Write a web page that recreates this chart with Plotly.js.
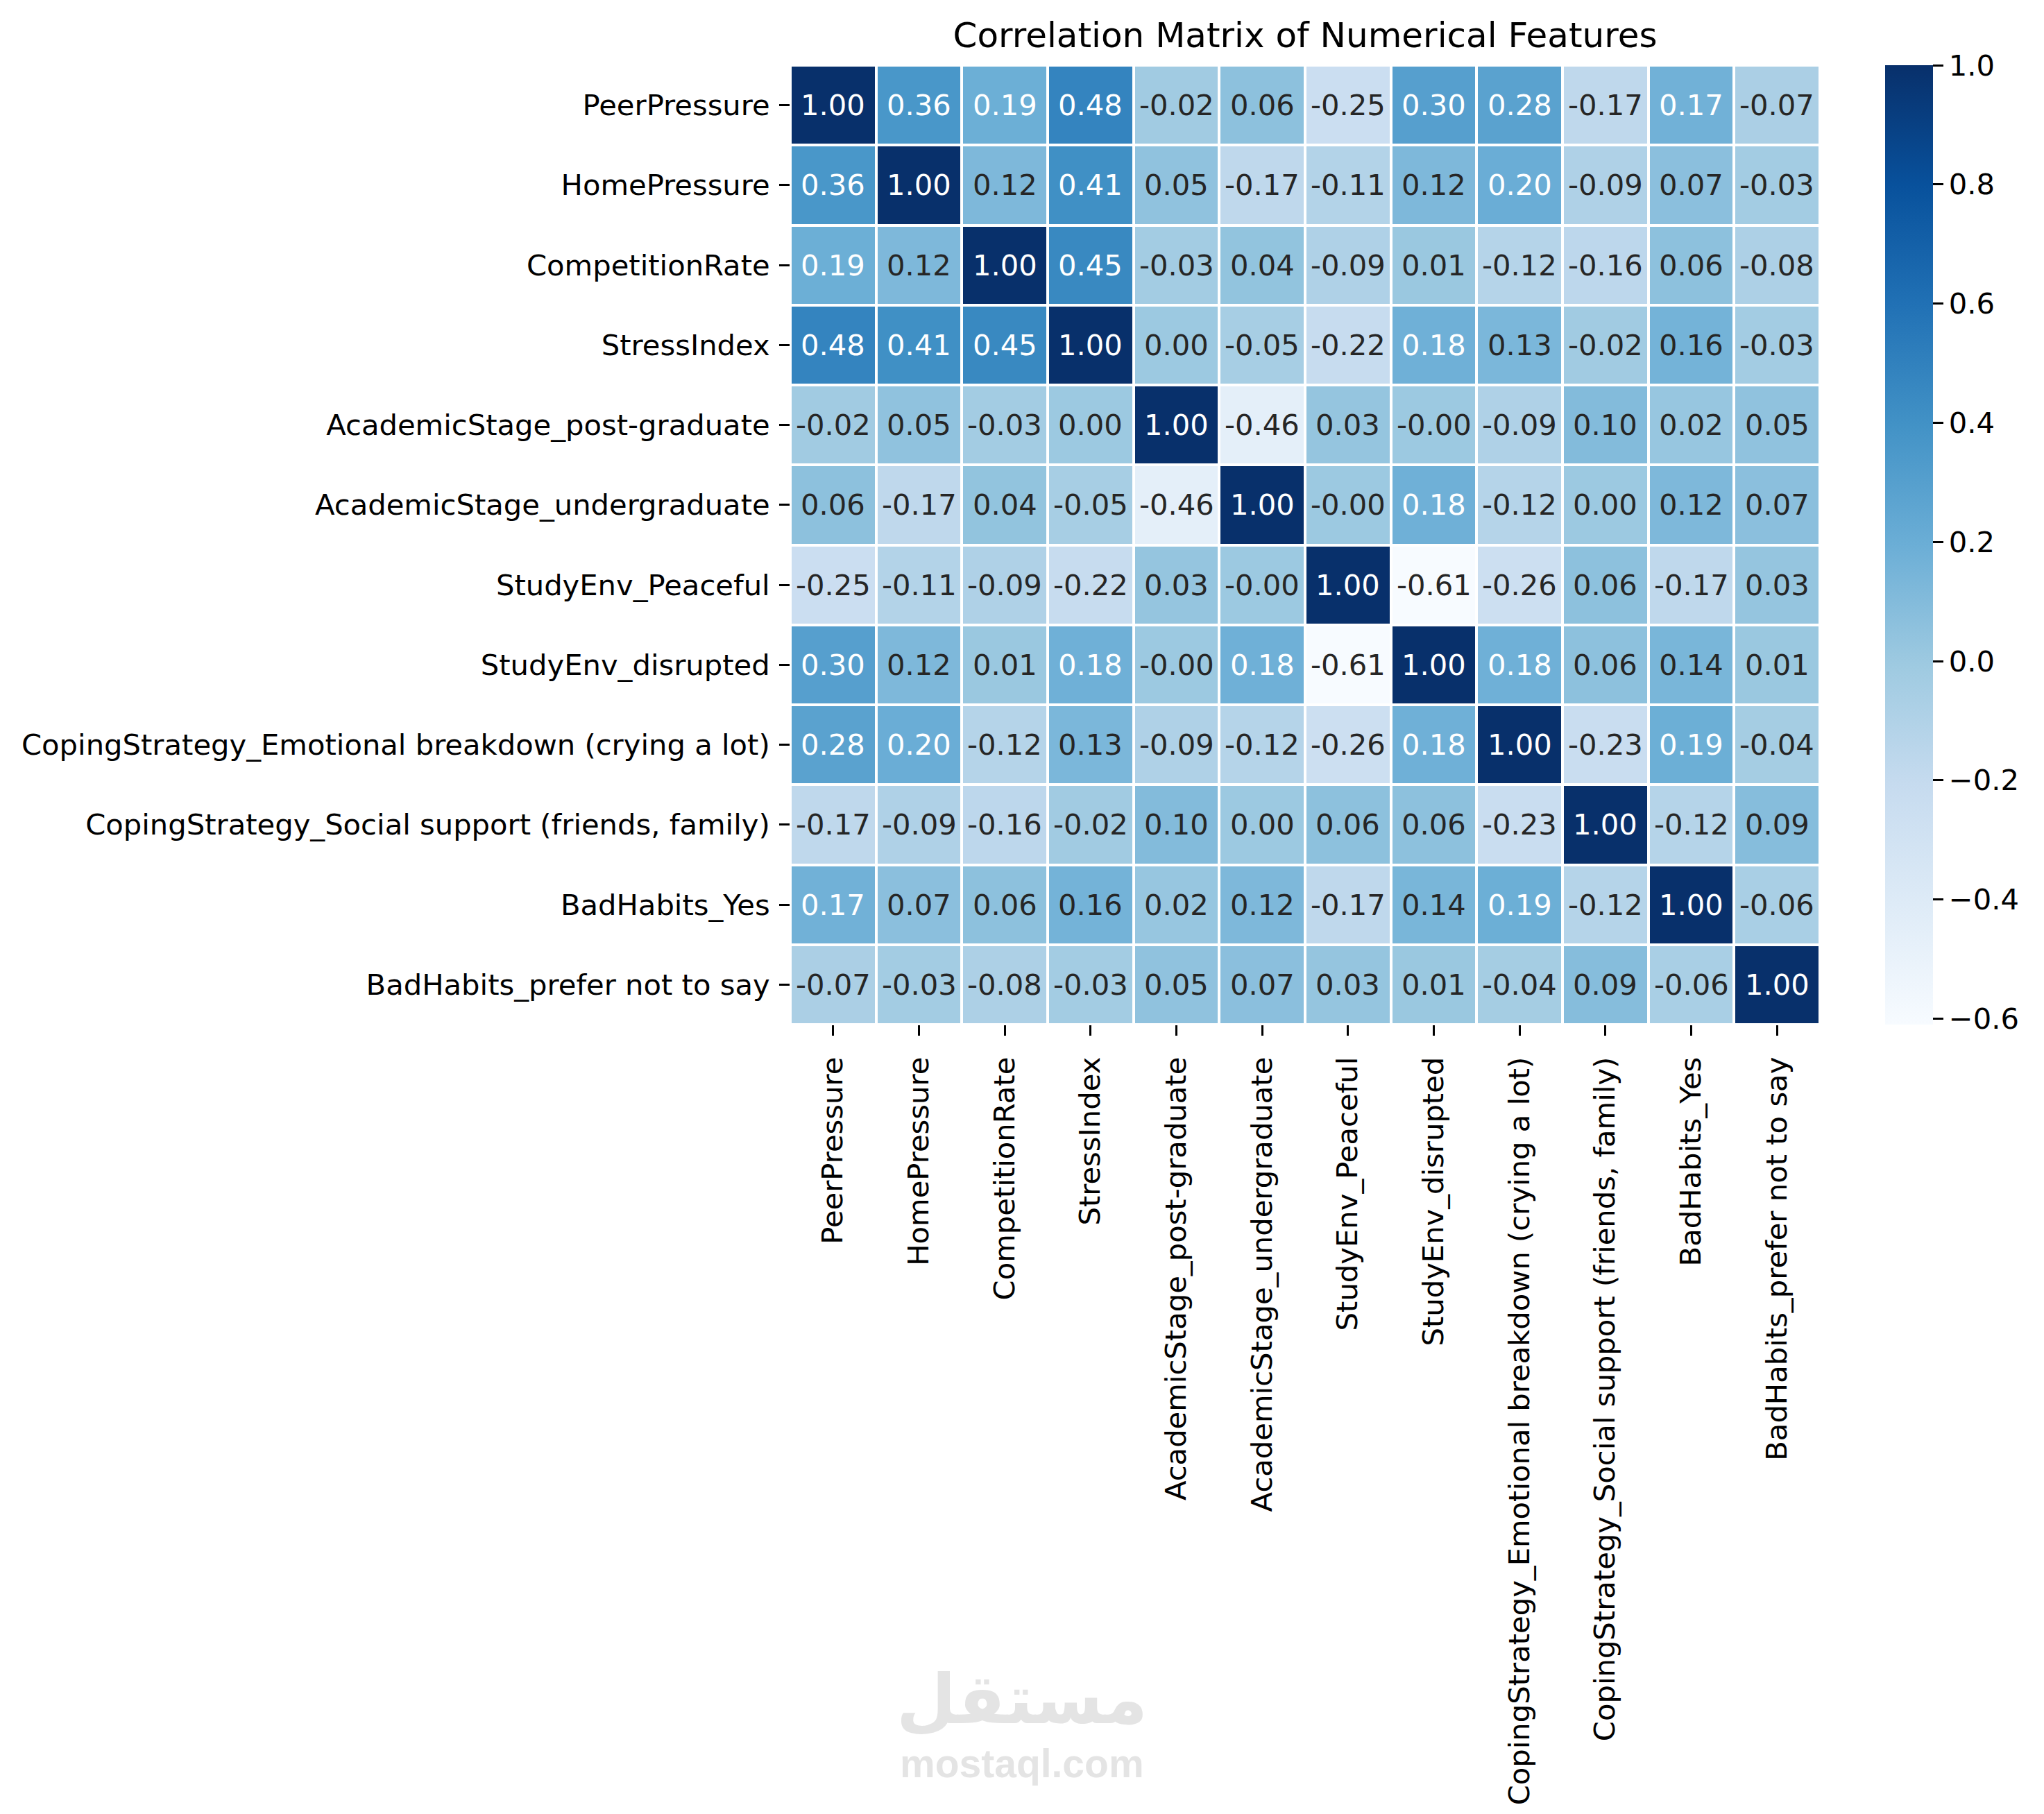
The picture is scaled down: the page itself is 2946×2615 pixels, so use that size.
<!DOCTYPE html>
<html>
<head>
<meta charset="utf-8">
<script src="https://cdn.plot.ly/plotly-3.0.1.min.js"></script>
<style>
  html, body { margin: 0; padding: 0; background: #ffffff; }
  #chart { width: 2946px; height: 2615px; }
</style>
</head>
<body>
<div id="chart"></div>
<script>
// ---- Data ----
const features = [
  "PeerPressure",
  "HomePressure",
  "CompetitionRate",
  "StressIndex",
  "AcademicStage_post-graduate",
  "AcademicStage_undergraduate",
  "StudyEnv_Peaceful",
  "StudyEnv_disrupted",
  "CopingStrategy_Emotional breakdown (crying a lot)",
  "CopingStrategy_Social support (friends, family)",
  "BadHabits_Yes",
  "BadHabits_prefer not to say"
];

const corrPeerPressure     = [ 1.00,  0.36,  0.19,  0.48, -0.02,  0.06, -0.25,  0.30,  0.28, -0.17,  0.17, -0.07];
const corrHomePressure     = [ 0.36,  1.00,  0.12,  0.41,  0.05, -0.17, -0.11,  0.12,  0.20, -0.09,  0.07, -0.03];
const corrCompetitionRate  = [ 0.19,  0.12,  1.00,  0.45, -0.03,  0.04, -0.09,  0.01, -0.12, -0.16,  0.06, -0.08];
const corrStressIndex      = [ 0.48,  0.41,  0.45,  1.00,  0.00, -0.05, -0.22,  0.18,  0.13, -0.02,  0.16, -0.03];
const corrPostGraduate     = [-0.02,  0.05, -0.03,  0.00,  1.00, -0.46,  0.03, -0.00, -0.09,  0.10,  0.02,  0.05];
const corrUndergraduate    = [ 0.06, -0.17,  0.04, -0.05, -0.46,  1.00, -0.00,  0.18, -0.12,  0.00,  0.12,  0.07];
const corrPeaceful         = [-0.25, -0.11, -0.09, -0.22,  0.03, -0.00,  1.00, -0.61, -0.26,  0.06, -0.17,  0.03];
const corrDisrupted        = [ 0.30,  0.12,  0.01,  0.18, -0.00,  0.18, -0.61,  1.00,  0.18,  0.06,  0.14,  0.01];
const corrEmotional        = [ 0.28,  0.20, -0.12,  0.13, -0.09, -0.12, -0.26,  0.18,  1.00, -0.23,  0.19, -0.04];
const corrSocialSupport    = [-0.17, -0.09, -0.16, -0.02,  0.10,  0.00,  0.06,  0.06, -0.23,  1.00, -0.12,  0.09];
const corrBadHabitsYes     = [ 0.17,  0.07,  0.06,  0.16,  0.02,  0.12, -0.17,  0.14,  0.19, -0.12,  1.00, -0.06];
const corrBadHabitsNoSay   = [-0.07, -0.03, -0.08, -0.03,  0.05,  0.07,  0.03,  0.01, -0.04,  0.09, -0.06,  1.00];

const colorbarTicks = [-0.6, -0.4, -0.2, 0.0, 0.2, 0.4, 0.6, 0.8, 1.0];

const z = [
  corrPeerPressure, corrHomePressure, corrCompetitionRate, corrStressIndex,
  corrPostGraduate, corrUndergraduate, corrPeaceful, corrDisrupted,
  corrEmotional, corrSocialSupport, corrBadHabitsYes, corrBadHabitsNoSay
];

// ---- Styles ----
const FONT = "DejaVu Sans, Liberation Sans, sans-serif";
const blues = [
  [0.000, "#f7fbff"], [0.125, "#deebf7"], [0.250, "#c6dbef"],
  [0.375, "#9ecae1"], [0.500, "#6baed6"], [0.625, "#4292c6"],
  [0.750, "#2171b5"], [0.875, "#08519c"], [1.000, "#08306b"]
];
let zmin = Infinity, zmax = -Infinity;
z.forEach(r => r.forEach(v => { if (v < zmin) zmin = v; if (v > zmax) zmax = v; }));

function hexToRgb(h) {
  return [parseInt(h.slice(1,3),16), parseInt(h.slice(3,5),16), parseInt(h.slice(5,7),16)];
}
function colorAt(v) {
  const t = Math.max(0, Math.min(1, (v - zmin) / (zmax - zmin)));
  for (let i = 0; i < blues.length - 1; i++) {
    const [t0, c0] = blues[i], [t1, c1] = blues[i+1];
    if (t >= t0 && t <= t1) {
      const f = (t - t0) / (t1 - t0);
      const a = hexToRgb(c0), b = hexToRgb(c1);
      return a.map((x, k) => x + f * (b[k] - x));
    }
  }
  return hexToRgb(blues[blues.length-1][1]);
}
function luminance(rgb) {
  const lin = rgb.map(c => { c /= 255; return c <= 0.03928 ? c / 12.92 : Math.pow((c + 0.055) / 1.055, 2.4); });
  return 0.2126 * lin[0] + 0.7152 * lin[1] + 0.0722 * lin[2];
}
function fmt(v) {
  const neg = v < 0 || Object.is(v, -0);
  return (neg ? "-" : "") + Math.abs(v).toFixed(2);
}

const annotations = [];
z.forEach((row, i) => {
  row.forEach((v, j) => {
    const lum = luminance(colorAt(v));
    annotations.push({
      x: features[j], y: features[i], xref: "x", yref: "y",
      text: fmt(v), showarrow: false,
      font: { family: FONT, size: 41.7, color: lum > 0.408 ? "#262626" : "#ffffff" }
    });
  });
});

// watermark
annotations.push({
  xref: "paper", yref: "paper", x: 0.225, y: -0.703, xanchor: "center", yanchor: "middle",
  text: "<b>مستقل</b>", showarrow: false,
  font: { family: "DejaVu Sans", size: 99, color: "#e4e4e4" }
});
annotations.push({
  xref: "paper", yref: "paper", x: 0.225, y: -0.770, xanchor: "center", yanchor: "middle",
  text: "<b>mostaql.com</b>", showarrow: false,
  font: { family: "Liberation Sans, Arial, sans-serif", size: 57, color: "#e4e4e4" }
});

const trace = {
  type: "heatmap",
  x: features, y: features, z: z,
  zmin: zmin, zmax: zmax,
  colorscale: blues,
  xgap: 4, ygap: 4,
  hoverongaps: false,
  colorbar: {
    thickness: 69, thicknessmode: "pixels",
    len: 1383, lenmode: "pixels",
    x: 1.0633, xanchor: "left", xref: "paper",
    y: 0.5, yanchor: "middle",
    ypad: 0, xpad: 0,
    outlinewidth: 0,
    ticks: "outside", ticklen: 15, tickwidth: 3, tickcolor: "#000000",
    tickmode: "array", tickvals: colorbarTicks,
    ticktext: colorbarTicks.map(t => (t < 0 ? "\u2212" : "") + Math.abs(t).toFixed(1)),
    tickfont: { family: FONT, size: 41.7, color: "#000000" }
  }
};

const layout = {
  width: 2946, height: 2615,
  paper_bgcolor: "#ffffff", plot_bgcolor: "#ffffff",
  margin: { l: 1139, r: 323, t: 94, b: 1138, pad: 0 },
  title: {
    text: "Correlation Matrix of Numerical Features",
    font: { family: FONT, size: 50, color: "#000000" },
    x: 0.5, xref: "paper", xanchor: "center",
    y: 1 - 50 / 2615, yref: "container", yanchor: "middle"
  },
  xaxis: {
    type: "category", automargin: false,
    tickangle: -90, ticks: "outside", ticklen: 15, tickwidth: 3, tickcolor: "#000000",
    ticklabelstandoff: 14,
    tickfont: { family: FONT, size: 41.7, color: "#000000" },
    showgrid: false, zeroline: false, showline: false
  },
  yaxis: {
    type: "category", automargin: false, autorange: "reversed",
    ticks: "outside", ticklen: 15, tickwidth: 3, tickcolor: "#000000",
    ticklabelstandoff: 5,
    tickfont: { family: FONT, size: 41.7, color: "#000000" },
    showgrid: false, zeroline: false, showline: false
  },
  annotations: annotations
};

Plotly.newPlot("chart", [trace], layout, { displayModeBar: false, staticPlot: true });
</script>
</body>
</html>
